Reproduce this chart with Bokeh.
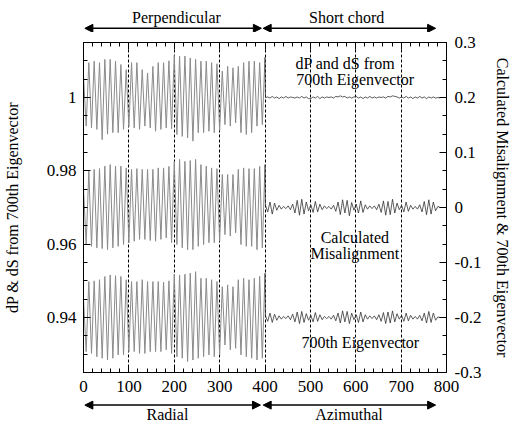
import numpy as np
from bokeh.plotting import figure
from bokeh.layouts import column
from bokeh.models import (Range1d, LinearAxis, SingleIntervalTicker, CustomJSTickFormatter,
                          Arrow, NormalHead, Label)
from bokeh.embed import file_html
from bokeh.resources import INLINE

# ---------------- data ----------------
# Axis ranges
LEFT_LO, LEFT_HI = 0.925, 1.015       # dP & dS axis (left)
RIGHT_LO, RIGHT_HI = -0.3, 0.3        # misalignment axis (right)

# Left half (0..400): dP & dS zig-zag vertices, left-axis units
top_left = [1.0060,
            0.9922, 1.0095, 0.9917, 1.0099, 0.9913, 1.0095, 0.9885, 1.0104, 0.9900, 1.0104,
            0.9904, 1.0099, 0.9904, 1.0090, 0.9913, 1.0076, 0.9920,
            1.0095, 0.9917, 1.0095, 0.9913, 1.0076, 0.9922, 1.0067, 0.9917, 1.0085,
            0.9908, 1.0095, 0.9913, 1.0095, 0.9917, 1.0100, 0.9915, 1.0115,
            0.9899, 1.0113, 0.9894, 1.0113, 0.9890, 1.0108, 0.9881, 1.0104, 0.9904,
            1.0099, 0.9904, 1.0099, 0.9908, 1.0095, 0.9904, 1.0092, 0.9910,
            1.0072, 0.9926, 1.0085, 0.9922, 1.0081, 0.9931, 1.0085, 0.9904, 1.0095,
            0.9899, 1.0099, 0.9904, 1.0099, 0.9922, 1.0095, 0.9926, 1.0110]
mid_left = [0.9750,
            0.9600, 0.9799, 0.9594, 0.9804, 0.9590, 0.9806, 0.9588, 0.9813, 0.9585, 0.9817,
            0.9590, 0.9813, 0.9594, 0.9813, 0.9599, 0.9808, 0.9604,
            0.9804, 0.9608, 0.9806, 0.9613, 0.9804, 0.9613, 0.9804, 0.9610, 0.9804,
            0.9608, 0.9808, 0.9613, 0.9808, 0.9617, 0.9812, 0.9604, 0.9826,
            0.9599, 0.9831, 0.9590, 0.9826, 0.9585, 0.9828, 0.9585, 0.9831, 0.9594,
            0.9817, 0.9599, 0.9813, 0.9604, 0.9808, 0.9604, 0.9806, 0.9608,
            0.9790, 0.9626, 0.9790, 0.9622, 0.9790, 0.9631, 0.9804, 0.9599, 0.9808,
            0.9594, 0.9806, 0.9594, 0.9806, 0.9585, 0.9812, 0.9590, 0.9817]
bot_left = [0.9450,
            0.9307, 0.9498, 0.9302, 0.9500, 0.9293, 0.9503, 0.9289, 0.9512, 0.9284, 0.9516,
            0.9289, 0.9514, 0.9298, 0.9512, 0.9298, 0.9503, 0.9307,
            0.9498, 0.9307, 0.9498, 0.9302, 0.9503, 0.9302, 0.9498, 0.9307, 0.9498,
            0.9307, 0.9498, 0.9307, 0.9496, 0.9312, 0.9500, 0.9302, 0.9518,
            0.9293, 0.9516, 0.9289, 0.9518, 0.9280, 0.9521, 0.9284, 0.9525, 0.9289,
            0.9507, 0.9293, 0.9507, 0.9298, 0.9503, 0.9293, 0.9498, 0.9298,
            0.9484, 0.9325, 0.9489, 0.9312, 0.9484, 0.9316, 0.9503, 0.9298, 0.9507,
            0.9293, 0.9503, 0.9289, 0.9507, 0.9284, 0.9512, 0.9289, 0.9521]

# Right half (401..786): right-axis units
top_right = [0.200, 0.201, 0.199, 0.202, 0.199, 0.201, 0.198, 0.201, 0.199, 0.202,
             0.199, 0.201, 0.200, 0.199, 0.201, 0.199, 0.202, 0.199, 0.201, 0.198,
             0.198, 0.201, 0.199, 0.202, 0.198, 0.201, 0.199, 0.201, 0.200, 0.201,
             0.199, 0.202, 0.201, 0.203, 0.201, 0.202, 0.199, 0.201, 0.199, 0.201,
             0.202, 0.199, 0.201, 0.198, 0.201, 0.199, 0.202, 0.199, 0.201, 0.199,
             0.201, 0.200, 0.201, 0.199, 0.202, 0.201, 0.203, 0.202, 0.201, 0.199,
             0.201, 0.199, 0.202, 0.199, 0.201, 0.198, 0.201, 0.199, 0.202, 0.199,
             0.201, 0.198, 0.201, 0.199, 0.201, 0.199, 0.200, 0.199]
mid_right = [0.004, -0.008, 0.010, -0.012, 0.008, -0.005, 0.004, -0.003, 0.002, -0.002,
             0.003, -0.004, 0.006, -0.010, 0.013, -0.014, 0.015, -0.012, 0.010, -0.006,
             0.005, -0.009, 0.011, -0.008, 0.006, -0.004, 0.003, -0.002, 0.002, -0.003,
             0.004, -0.007, 0.010, -0.013, 0.014, -0.010, 0.013, -0.015, 0.009, -0.005,
             0.006, -0.010, 0.012, -0.009, 0.005, -0.003, 0.003, -0.002, 0.003, -0.004,
             0.006, -0.009, 0.012, -0.014, 0.011, -0.013, 0.015, -0.010, 0.008, -0.004,
             0.004, -0.008, 0.010, -0.007, 0.004, -0.003, 0.002, -0.003, 0.005, -0.008,
             0.011, -0.013, 0.014, -0.012, 0.010, -0.006, 0.002, 0.000]
bot_right = [-0.197, -0.207, -0.192, -0.209, -0.194, -0.205, -0.197, -0.203, -0.198, -0.202,
             -0.197, -0.204, -0.194, -0.208, -0.190, -0.211, -0.189, -0.209, -0.193, -0.205,
             -0.196, -0.208, -0.191, -0.207, -0.195, -0.204, -0.198, -0.202, -0.198, -0.203,
             -0.196, -0.206, -0.192, -0.210, -0.188, -0.208, -0.189, -0.211, -0.192, -0.204,
             -0.195, -0.209, -0.190, -0.208, -0.195, -0.203, -0.197, -0.202, -0.197, -0.204,
             -0.195, -0.207, -0.191, -0.211, -0.190, -0.210, -0.188, -0.208, -0.193, -0.203,
             -0.196, -0.207, -0.192, -0.206, -0.196, -0.203, -0.198, -0.203, -0.196, -0.206,
             -0.192, -0.210, -0.189, -0.209, -0.192, -0.205, -0.199, -0.200]

# Region labels (top / bottom of the chart)
top_regions = ["Perpendicular", "Short chord"]
bottom_regions = ["Radial", "Azimuthal"]

# sample positions
x_left = np.linspace(0, 400, len(top_left))
x_right = 401 + 5 * np.arange(len(top_right))

# ---------------- layout constants ----------------
W = 517
BL, BR = 81, 71
TOP_H, BOT_H = 32, 23
MAIN_H = 423 - TOP_H - BOT_H
MAIN_BT = 10
FRAME_H = 330
MAIN_BB = MAIN_H - MAIN_BT - FRAME_H
FONT = "Liberation Serif"

x_range = Range1d(0, 800)

p = figure(width=W, height=MAIN_H, output_backend="svg", toolbar_location=None,
           x_range=x_range, y_range=Range1d(LEFT_LO, LEFT_HI),
           min_border_left=BL, min_border_right=BR, min_border_top=MAIN_BT,
           min_border_bottom=MAIN_BB,
           background_fill_color="white", border_fill_color="white")
p.extra_y_ranges = {"right": Range1d(RIGHT_LO - 1e-4, RIGHT_HI + 1e-4)}
p.outline_line_color = "black"
p.outline_line_width = 1


def to_left(v):
    v = np.asarray(v, dtype=float)
    return LEFT_LO + (v - RIGHT_LO) / (RIGHT_HI - RIGHT_LO) * (LEFT_HI - LEFT_LO)


for yl, yr in ((top_left, top_right), (mid_left, mid_right), (bot_left, bot_right)):
    p.line(x_left, yl, line_color="#8a8a8a", line_width=1)
    xr = np.concatenate([[x_left[-1]], x_right])
    yrr = np.concatenate([[yl[-1]], to_left(yr)])
    p.line(xr, yrr, line_color="#333333", line_width=0.8)

fmt = CustomJSTickFormatter(code="""
    var s = tick.toFixed(2);
    if (s.indexOf('.') >= 0) { s = s.replace(/0+$/, '').replace(/\\.$/, ''); }
    if (s == '-0') { s = '0'; }
    return s;
""")


def style_axis(ax):
    ax.major_tick_in = 7
    ax.major_tick_out = 0
    ax.minor_tick_in = 4
    ax.minor_tick_out = 0
    ax.axis_line_color = "black"
    ax.major_tick_line_color = "black"
    ax.minor_tick_line_color = "black"
    ax.major_label_text_font = FONT
    ax.major_label_text_font_size = "17px"
    ax.major_label_text_color = "black"
    ax.axis_label_text_font = FONT
    ax.axis_label_text_font_size = "16px"
    ax.axis_label_text_font_style = "normal"
    ax.axis_label_text_color = "black"
    ax.major_label_standoff = 7
    ax.formatter = fmt


# bottom x axis
xax = p.xaxis[0]
xax.ticker = SingleIntervalTicker(interval=100, num_minor_ticks=5)
style_axis(xax)
xax.major_label_standoff = 8

# left y axis
yax = p.yaxis[0]
yax.ticker = SingleIntervalTicker(interval=0.02, num_minor_ticks=4)
style_axis(yax)
yax.axis_label = "dP & dS from 700th Eigenvector"
yax.axis_label_standoff = 23

# right y axis
rax = LinearAxis(y_range_name="right",
                 ticker=SingleIntervalTicker(interval=0.1, num_minor_ticks=3))
style_axis(rax)
rax.major_label_standoff = 8
rax.axis_label = "Calculated Misalignment & 700th Eigenvector"
rax.axis_label_standoff = 10
p.add_layout(rax, "right")

# top axis (ticks only, no labels)
tax = LinearAxis(ticker=SingleIntervalTicker(interval=100, num_minor_ticks=5))
style_axis(tax)
tax.formatter = CustomJSTickFormatter(code="return '';")
tax.major_label_text_font_size = "1px"
tax.major_label_standoff = 0
p.add_layout(tax, "above")

# dashed segment boundaries
p.xgrid.ticker = SingleIntervalTicker(interval=100)
p.xgrid.grid_line_color = "black"
p.xgrid.grid_line_dash = "3 2"
p.xgrid.grid_line_width = 1
p.ygrid.visible = False


def px_y(px):
    """canvas pixel row -> left-axis data value"""
    return LEFT_HI - (px - TOP_H - MAIN_BT) / FRAME_H * (LEFT_HI - LEFT_LO)


# in-plot annotations
for txt, xc, row, align in (("dP and dS from", 467, 63, "left"),
                            ("700th Eigenvector", 469, 79, "left"),
                            ("Calculated", 598, 237, "center"),
                            ("Misalignment", 598, 253, "center"),
                            ("700th Eigenvector", 610, 342, "center")):
    p.add_layout(Label(x=xc, y=px_y(row), text=txt, text_align=align,
                       text_baseline="middle", text_font=FONT, text_font_size="16px",
                       text_color="black"))


# ---------------- strips above and below with the region arrows ----------------
def strip(height, row0):
    s = figure(width=W, height=height, output_backend="svg", toolbar_location=None,
               x_range=x_range, y_range=Range1d(row0 + height, row0),
               min_border_left=BL, min_border_right=BR, min_border_top=0, min_border_bottom=0,
               x_axis_location=None, y_axis_location=None,
               background_fill_color="white", border_fill_color="white")
    s.outline_line_color = None
    s.xgrid.visible = False
    s.ygrid.visible = False
    return s


def head():
    return NormalHead(size=8, fill_color="black", line_color="black", line_width=1)


top = strip(TOP_H, 0)
bot = strip(BOT_H, 423 - BOT_H)

for fig, row, spans, names, mid, centers in (
        (top, 27.8, ((3, 392), (396, 776)), top_regions, 16.5, (205, 580)),
        (bot, 404.6, ((3, 390), (396, 776)), bottom_regions, 413.8, (185, 585))):
    for (xs, xe), name, xc in zip(spans, names, centers):
        fig.add_layout(Arrow(x_start=xs, x_end=xe, y_start=row, y_end=row,
                             line_color="black", line_width=1.5, start=head(), end=head()))
        fig.add_layout(Label(x=xc, y=mid, text=name, text_align="center",
                             text_baseline="middle", text_font=FONT,
                             text_font_size="16px", text_color="black"))

layout = column(top, p, bot, spacing=0)
open("out.html", "w").write(file_html(layout, INLINE))
